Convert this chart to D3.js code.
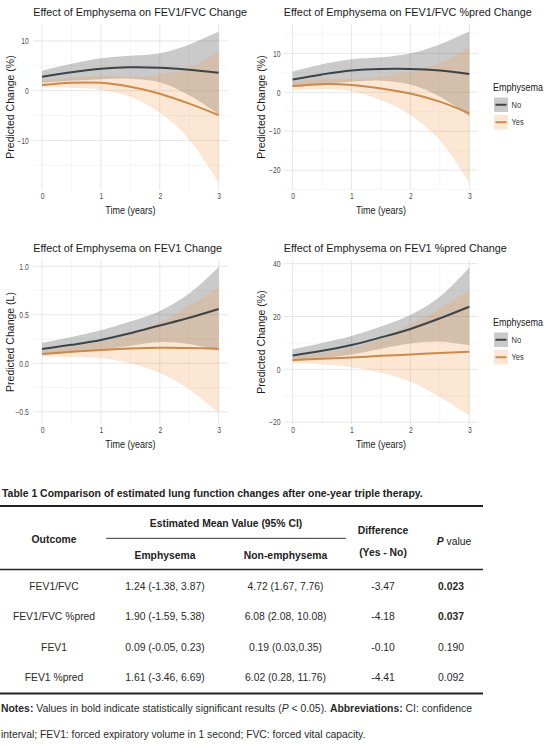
<!DOCTYPE html>
<html lang="en">
<head>
  <meta charset="UTF-8">
  <title>Emphysema and lung function change</title>
  <style>
    body { margin: 0; background: #fff; }
    text { font-family: "Liberation Sans", Arial, sans-serif; }
  </style>
</head>
<body>
  <svg id="svg" width="554" height="746"></svg>
  <script src="https://cdn.jsdelivr.net/npm/d3@7"></script>
  <script>
    // time points the curves were read at (years)
    const years = [0, 0.5, 1, 1.5, 2, 2.5, 3]
    const groups = ['No', 'Yes']
    const xTicks = [0, 1, 2, 3]

    // FEV1/FVC (%)
    const ratioNoFit = [2.8, 3.7, 4.4, 4.7, 4.6, 4.2, 3.6]
    const ratioNoLow = [1.6, 2.0, 2.3, 2.4, 1.7, -0.9, -4.7]
    const ratioNoHigh = [4.0, 5.4, 6.5, 7.0, 7.5, 9.3, 11.9]
    const ratioYesFit = [1.15, 1.6, 1.6, 0.8, -0.6, -2.6, -4.9]
    const ratioYesLow = [0.7, 0.6, 0.2, -1.2, -4.4, -9.8, -18.5]
    const ratioYesHigh = [2.1, 2.6, 3.0, 2.8, 3.2, 4.6, 8.0]
    const ratioTicks = [-10, 0, 10]

    // FEV1/FVC %pred (%)
    const ratioPredNoFit = [3.3, 4.6, 5.6, 6.0, 6.0, 5.6, 4.7]
    const ratioPredNoLow = [1.4, 2.1, 2.7, 3.0, 2.0, -1.1, -6.2]
    const ratioPredNoHigh = [5.3, 7.2, 8.5, 9.0, 10.0, 12.3, 15.6]
    const ratioPredYesFit = [1.6, 2.1, 1.9, 1.0, -0.3, -2.4, -5.4]
    const ratioPredYesLow = [0.6, 0.8, 0.3, -2.0, -5.8, -12.3, -23.2]
    const ratioPredYesHigh = [2.6, 3.4, 3.5, 4.0, 5.2, 7.5, 11.5]
    const ratioPredTicks = [-20, -10, 0, 10]

    // FEV1 (L)
    const fevNoFit = [0.147, 0.19, 0.24, 0.31, 0.39, 0.47, 0.56]
    const fevNoLow = [0.086, 0.11, 0.14, 0.18, 0.22, 0.20, 0.13]
    const fevNoHigh = [0.21, 0.27, 0.34, 0.43, 0.54, 0.72, 0.99]
    const fevYesFit = [0.096, 0.118, 0.137, 0.152, 0.16, 0.158, 0.15]
    const fevYesLow = [0.07, 0.065, 0.055, 0.0, -0.1, -0.27, -0.51]
    const fevYesHigh = [0.12, 0.17, 0.22, 0.30, 0.42, 0.59, 0.79]
    const fevTicks = [-0.5, 0, 0.5, 1.0]

    // FEV1 %pred (%)
    const fevPredNoFit = [5.2, 7.0, 9.2, 12.1, 15.3, 19.3, 23.7]
    const fevPredNoLow = [3.0, 4.2, 5.6, 7.8, 9.8, 10.5, 9.0]
    const fevPredNoHigh = [7.6, 10.0, 12.6, 16.2, 20.6, 27.5, 38.6]
    const fevPredYesFit = [3.5, 4.0, 4.5, 5.1, 5.6, 6.2, 6.7]
    const fevPredYesLow = [2.3, 1.8, 0.8, -1.3, -4.7, -10.5, -17.5]
    const fevPredYesHigh = [4.7, 6.2, 8.2, 11.5, 17.0, 22.9, 30.0]
    const fevPredTicks = [-20, 0, 20, 40]

    // Table 1
    const outcomes = ['FEV1/FVC', 'FEV1/FVC %pred', 'FEV1', 'FEV1 %pred']
    const emphValues = ['1.24 (-1.38, 3.87)', '1.90 (-1.59, 5.38)', '0.09 (-0.05, 0.23)', '1.61 (-3.46, 6.69)']
    const nonEmphValues = ['4.72 (1.67, 7.76)', '6.08 (2.08, 10.08)', '0.19 (0.03,0.35)', '6.02 (0.28, 11.76)']
    const differences = ['-3.47', '-4.18', '-0.10', '-4.41']
    const pValues = ['0.023', '0.037', '0.190', '0.092']

    const lineColor = { No: '#3c4448', Yes: '#cb8a4c' }
    const bandColor = { No: '#5a5a5a', Yes: '#f0a050' }
    const bandAlpha = { No: 0.32, Yes: 0.25 }
    const K = 0.9 // the source picture is a bit squeezed sideways

    const svg = d3.select('#svg')

    // text helper: (x, y) is the anchor point, text is centred vertically on y
    function txt(parent, x, y, s, o = {}) {
      const t = parent.append('text')
        .attr('text-anchor', o.anchor || 'start')
        .attr('dy', '0.35em')
        .attr('font-size', o.size || 10)
        .attr('font-weight', o.weight || 'normal')
        .attr('font-style', o.italic ? 'italic' : 'normal')
        .attr('fill', o.fill || '#222')
      if (Array.isArray(s)) {
        s.forEach(seg => t.append('tspan')
          .attr('font-weight', seg.b ? 'bold' : null)
          .attr('font-style', seg.i ? 'italic' : null)
          .text(seg.t))
      } else {
        t.text(s)
      }
      let k = o.k || K
      if (o.width) k = o.width / t.node().getComputedTextLength()
      const rot = o.rotate ? ' rotate(-90)' : ''
      t.attr('transform', `translate(${x},${y})${rot} scale(${k},1)`)
      return t
    }

    const panels = [
      { title: 'Effect of Emphysema on FEV1/FVC Change', titleW: 214, ylab: 'Predicted Change (%)',
        no: [ratioNoFit, ratioNoLow, ratioNoHigh], yes: [ratioYesFit, ratioYesLow, ratioYesHigh],
        ticks: ratioTicks, ydom: [-19.95, 13.4], left: 33.2, top: 24, bottom: 190, pad: 5.5, legend: false },
      { title: 'Effect of Emphysema on FEV1/FVC %pred Change', titleW: 248, ylab: 'Predicted Change (%)',
        no: [ratioPredNoFit, ratioPredNoLow, ratioPredNoHigh], yes: [ratioPredYesFit, ratioPredYesLow, ratioPredYesHigh],
        ticks: ratioPredTicks, ydom: [-25.1, 17.55], left: 283.8, top: 24, bottom: 190, pad: 4, legend: true },
      { title: 'Effect of Emphysema on FEV1 Change', titleW: 189, ylab: 'Predicted Change (L)',
        no: [fevNoFit, fevNoLow, fevNoHigh], yes: [fevYesFit, fevYesLow, fevYesHigh],
        ticks: fevTicks, ydom: [-0.626, 1.065], left: 33.2, top: 260, bottom: 424, pad: 5.5, fmt: d3.format('.1f'), legend: false },
      { title: 'Effect of Emphysema on FEV1 %pred Change', titleW: 223, ylab: 'Predicted Change (%)',
        no: [fevPredNoFit, fevPredNoLow, fevPredNoHigh], yes: [fevPredYesFit, fevPredYesLow, fevPredYesHigh],
        ticks: fevPredTicks, ydom: [-20.7, 41.4], left: 283.8, top: 260, bottom: 424, pad: 4, legend: true }
    ]

    const panelWidth = 194.3

    function drawPanel(p) {
      const x = d3.scaleLinear().domain([-0.15, 3.15]).range([p.left, p.left + panelWidth])
      const y = d3.scaleLinear().domain(p.ydom).range([p.bottom, p.top])
      const g = svg.append('g')

      // grid: minor lines half way between major ticks
      const step = p.ticks[1] - p.ticks[0]
      const yMinor = d3.range(p.ticks[0] - step / 2, p.ydom[1], step).filter(v => v > p.ydom[0])
      const xMinor = d3.range(0.5, 3, 1)
      g.selectAll('.gyMinor').data(yMinor).enter().append('line')
        .attr('x1', x.range()[0]).attr('x2', x.range()[1])
        .attr('y1', d => y(d)).attr('y2', d => y(d))
        .attr('stroke', '#eeeeee').attr('stroke-width', 0.6)
      g.selectAll('.gxMinor').data(xMinor).enter().append('line')
        .attr('y1', p.top).attr('y2', p.bottom)
        .attr('x1', d => x(d)).attr('x2', d => x(d))
        .attr('stroke', '#eeeeee').attr('stroke-width', 0.6)
      g.selectAll('.gy').data(p.ticks).enter().append('line')
        .attr('x1', x.range()[0]).attr('x2', x.range()[1])
        .attr('y1', d => y(d)).attr('y2', d => y(d))
        .attr('stroke', '#e3e3e3').attr('stroke-width', 0.9)
      g.selectAll('.gx').data(xTicks).enter().append('line')
        .attr('y1', p.top).attr('y2', p.bottom)
        .attr('x1', d => x(d)).attr('x2', d => x(d))
        .attr('stroke', '#e3e3e3').attr('stroke-width', 0.9)

      const series = groups.map(grp => {
        const [fit, lo, hi] = grp === 'No' ? p.no : p.yes
        return { grp, rows: years.map((t, i) => ({ t, fit: fit[i], lo: lo[i], hi: hi[i] })) }
      })

      const smooth = d3.curveCatmullRom.alpha(0.5)
      const band = d3.area().curve(smooth)
        .x(d => x(d.t)).y0(d => y(d.lo)).y1(d => y(d.hi))
      const line = d3.line().curve(smooth)
        .x(d => x(d.t)).y(d => y(d.fit))

      g.selectAll('.band').data(series).enter().append('path')
        .attr('d', d => band(d.rows))
        .attr('fill', d => bandColor[d.grp])
        .attr('fill-opacity', d => bandAlpha[d.grp])
      g.selectAll('.fit').data(series).enter().append('path')
        .attr('d', d => line(d.rows))
        .attr('fill', 'none')
        .attr('stroke', d => lineColor[d.grp])
        .attr('stroke-width', 2)

      // axes
      const yAxis = g.append('g').attr('transform', `translate(${p.left},0)`)
        .call(d3.axisLeft(y).tickValues(p.ticks).tickSize(0).tickPadding(p.pad)
          .tickFormat(p.fmt || d3.format('d')))
      const xAxis = g.append('g').attr('transform', `translate(0,${p.bottom + 2.5})`)
        .call(d3.axisBottom(x).tickValues(xTicks).tickSize(0).tickPadding(0)
          .tickFormat(d3.format('d')))
      for (const a of [yAxis, xAxis]) {
        a.select('.domain').remove()
        a.selectAll('text')
          .attr('fill', '#4d4d4d')
          .attr('font-size', 8.5)
          .attr('font-family', '"Liberation Sans", Arial, sans-serif')
          .attr('transform', 'scale(0.8,1)')
      }

      txt(g, p.left, p.top - 12, p.title, { size: 11.6, width: p.titleW, fill: '#1a1a1a' })
      txt(g, p.left + panelWidth / 2, p.bottom + 20.5, 'Time (years)', { size: 10, anchor: 'middle', fill: '#1a1a1a' })
      txt(g, p.left - 22.5, (p.top + p.bottom) / 2, p.ylab, { size: 10.5, anchor: 'middle', rotate: true, k: 1, fill: '#1a1a1a' })

      if (p.legend) {
        const c = (p.top + p.bottom) / 2
        const lx = 494
        txt(g, lx - 1, c - 20, 'Emphysema', { size: 10.3, width: 50, fill: '#1a1a1a' })
        groups.forEach((grp, i) => {
          const ky = c - 9.5 + i * 17.5
          g.append('rect').attr('x', lx).attr('y', ky).attr('width', 14).attr('height', 14.5)
            .attr('fill', bandColor[grp]).attr('fill-opacity', bandAlpha[grp])
          g.append('line').attr('x1', lx + 1.5).attr('x2', lx + 12.5)
            .attr('y1', ky + 7.25).attr('y2', ky + 7.25)
            .attr('stroke', lineColor[grp]).attr('stroke-width', 2)
          txt(g, lx + 17.5, ky + 7.25, grp, { size: 8.8, fill: '#333', k: 0.85 })
        })
      }
    }

    panels.forEach(drawPanel)

    // ---- Table 1 ----
    const tg = svg.append('g')
    const tableW = 483
    const ink = '#222'

    txt(tg, 2, 493.3, 'Table 1 Comparison of estimated lung function changes after one-year triple therapy.',
      { size: 11, weight: 'bold', width: 421, fill: ink })

    const rule = (y, w, x1 = 0, x2 = tableW) => tg.append('line')
      .attr('x1', x1).attr('x2', x2).attr('y1', y).attr('y2', y)
      .attr('stroke', ink).attr('stroke-width', w)
    rule(506, 2)
    rule(538.3, 0.9, 106, 346)
    rule(569.5, 1.6)
    rule(693.5, 2)

    const colX = [54, 165, 285.5, 383, 451]
    const head = { size: 11.5, weight: 'bold', anchor: 'middle', fill: ink }
    txt(tg, 226, 523.3, 'Estimated Mean Value (95% CI)', head)
    txt(tg, colX[0], 539.3, 'Outcome', head)
    txt(tg, colX[1], 555, 'Emphysema', head)
    txt(tg, colX[2], 555, 'Non-emphysema', head)
    txt(tg, colX[3], 530, 'Difference', head)
    txt(tg, colX[3], 552, '(Yes - No)', head)
    txt(tg, 454, 541, [{ t: 'P', b: true, i: true }, { t: ' value' }], { size: 11.5, anchor: 'middle', fill: ink })

    const rowY = d3.scaleBand().domain(outcomes).range([571, 692])
    const rows = outcomes.map((o, i) => [o, emphValues[i], nonEmphValues[i], differences[i], pValues[i]])
    rows.forEach(r => {
      const cy = rowY(r[0]) + rowY.bandwidth() / 2
      r.forEach((cell, j) => {
        const bold = j === 4 && +cell < 0.05
        txt(tg, colX[j], cy, cell, { size: 11.5, anchor: 'middle', weight: bold ? 'bold' : 'normal', fill: '#2a2a2a' })
      })
    })

    txt(tg, 1, 708.3, [
      { t: 'Notes:', b: true },
      { t: ' Values in bold indicate statistically significant results (' },
      { t: 'P', i: true },
      { t: ' < 0.05). ' },
      { t: 'Abbreviations:', b: true },
      { t: ' CI: confidence' }
    ], { size: 10.5, width: 472, fill: '#2a2a2a' })
    txt(tg, 1, 734, 'interval; FEV1: forced expiratory volume in 1 second; FVC: forced vital capacity.',
      { size: 10.5, width: 365, fill: '#2a2a2a' })
  </script>
</body>
</html>
